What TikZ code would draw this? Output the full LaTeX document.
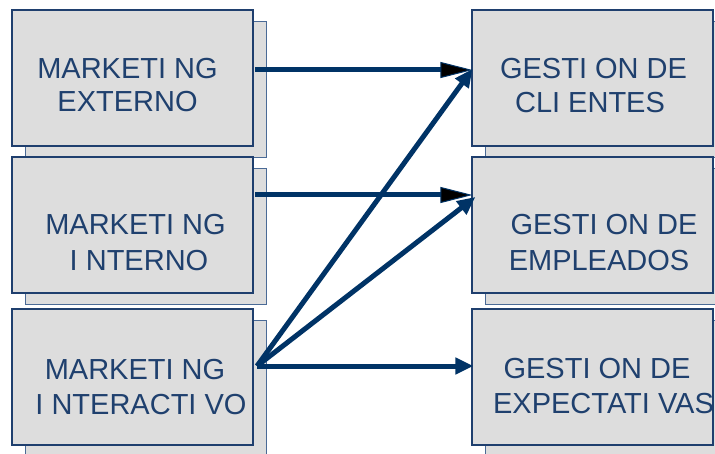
\documentclass[tikz,border=0pt]{standalone}
\usepackage{fontspec}
\setmainfont{Liberation Sans}
\usetikzlibrary{arrows.meta}

\definecolor{boxfill}{HTML}{DDDDDD}
\definecolor{boxline}{HTML}{1F3F6E}
\definecolor{shadeline}{HTML}{4A6A96}
\definecolor{navy}{HTML}{003366}
\definecolor{textblue}{HTML}{1F406E}

\begin{document}
\begin{tikzpicture}[x=1pt,y=-1pt,
  frontbox/.style={draw=boxline,fill=boxfill,line width=1.2pt,
    minimum width=241pt,minimum height=136pt,inner sep=0pt},
  shadowbox/.style={draw=shadeline,fill=boxfill,line width=1pt,
    minimum width=241pt,minimum height=136pt,inner sep=0pt},
  txt/.style={anchor=base,inner sep=0pt,text=textblue,
    font=\fontsize{29}{34}\selectfont},
  link/.style={draw=navy,line width=5pt},
  blackhead/.style={-{Triangle[length=32pt,width=16pt,line width=1pt,fill=black]}},
  navyhead/.style={-{Triangle[length=18pt,width=16pt]}}
]
\useasboundingbox (0,0) rectangle (715,454);

% left column: shadow first, then the front panel
\node[shadowbox] (L1s) at (145.5,90) {};
\node[frontbox]  (L1)  at (132.5,78) {};
\node[shadowbox] (L2s) at (145.5,237) {};
\node[frontbox]  (L2)  at (132.5,225) {};
\node[shadowbox] (L3s) at (145.5,389) {};
\node[frontbox]  (L3)  at (132.5,377) {};

% right column
\node[shadowbox] (R1s) at (605.5,90) {};
\node[frontbox]  (R1)  at (592.5,78) {};
\node[shadowbox] (R2s) at (605.5,237) {};
\node[frontbox]  (R2)  at (592.5,225) {};
\node[shadowbox] (R3s) at (605.5,389) {};
\node[frontbox]  (R3)  at (592.5,377) {};

% labels
\node[txt] (L1a) at (127.5,79)  {MARKETI NG};
\node[txt] (L1b) at (127.5,112) {EXTERNO};
\node[txt] (L2a) at (135.5,235) {MARKETI NG};
\node[txt] (L2b) at (139,271)   {I NTERNO};
\node[txt] (L3a) at (135,379)   {MARKETI NG};
\node[txt] (L3b) at (141,414)   {I NTERACTI VO};
\node[txt] (R1a) at (593.5,79)  {GESTI ON DE};
\node[txt] (R1b) at (590,113)   {CLI ENTES};
\node[txt] (R2a) at (604,235)   {GESTI ON DE};
\node[txt] (R2b) at (599,271)   {EMPLEADOS};
\node[txt] (R3a) at (597,378)   {GESTI ON DE};
\node[txt] (R3b) at (603.5,413) {EXPECTATI VAS};

% connector end points
\coordinate (s1) at (255,70);
\coordinate (s2) at (255,195);
\coordinate (hub) at (257,366);

% straight links from the upper panels
\draw[link,blackhead] (s1) -- ([xshift=1pt]s1 -| R1.west);
\draw[link,blackhead] (s2) -- ([xshift=1pt]s2 -| R2.west);

% links fanning out of the interactive panel
\draw[link,navyhead] (hub) -- ([xshift=1pt,yshift=1pt]s1 -| R1.west);
\draw[link,navyhead] (hub) -- ([xshift=4pt,yshift=-2pt]s2 -| R2.west);
\draw[link,navyhead] (hub) -- ([xshift=2pt]hub -| R3.west);
\end{tikzpicture}
\end{document}
